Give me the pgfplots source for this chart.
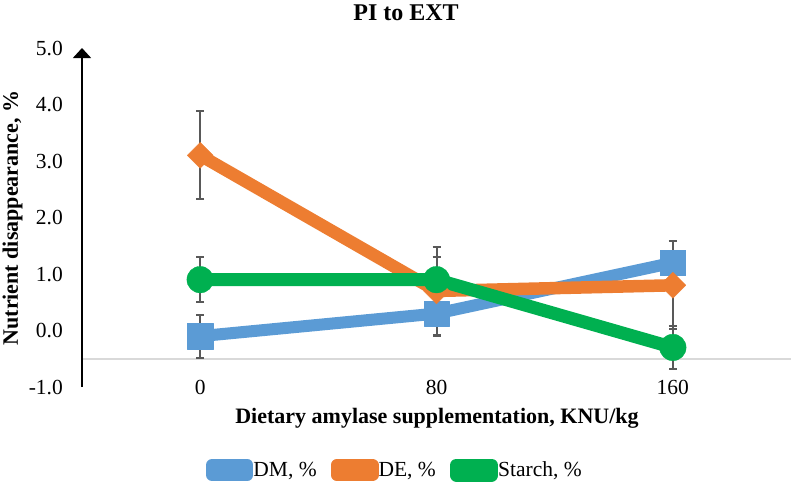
\documentclass[border=0pt]{standalone}
\usepackage{fontspec}
\setmainfont{Liberation Serif}
\usepackage{pgfplots}
\pgfplotsset{compat=1.18}
\usetikzlibrary{arrows.meta}
\definecolor{dmblue}{HTML}{5B9BD5}
\definecolor{deorange}{HTML}{ED7D31}
\definecolor{stgreen}{HTML}{00B050}
\definecolor{errgray}{HTML}{595959}
\definecolor{axgray}{HTML}{D9D9D9}
\pgfplotsset{
  errplot/.style={errgray, line width=2pt, only marks, mark=none, forget plot,
    error bars/.cd, y dir=both, y explicit, error mark=|,
    error bar style={draw=errgray, line width=2pt, solid},
    error mark options={draw=errgray, line width=2pt, mark size=4pt}},
}
\begin{document}
\begin{tikzpicture}[x=1pt,y=1pt]
\begin{axis}[
  at={(0pt,0pt)}, anchor=south west,
  scale only axis, width=709pt, height=339pt,
  xmin=-40, xmax=200, ymin=-1, ymax=5,
  clip=false,
  axis line style={draw=none},
  major tick length=0pt,
  xtick={0,80,160}, xticklabels={0,80,160},
  ytick={-1,0,1,2,3,4,5},
  yticklabels={-1.0,0.0,1.0,2.0,3.0,4.0,5.0},
  tick label style={font=\fontsize{21.5}{24}\selectfont, inner sep=0pt},
  xticklabel style={anchor=center},
  yticklabel style={anchor=east, xshift=-19pt},
  legend style={at={(axis description cs:0.44,-0.245)}, anchor=center,
    draw=none, fill=none, font=\fontsize{21.5}{24}\selectfont,
    legend columns=3,
    /tikz/every even column/.append style={column sep=14pt},
    nodes={inner xsep=0pt}},
  legend image code/.code={
    \path (0pt,-5pt) rectangle (35.3pt,5pt);
    \draw[#1, mark=none, line width=13pt, line cap=round] (5.5pt,0pt) -- (32.2pt,0pt);
  },
]
% horizontal axis line (crosses at -0.5)
\draw[axgray, line width=2pt] (axis cs:-40,-0.5) -- (axis cs:200,-0.5);
% vertical axis with arrow
\draw[black, line width=1.5pt, -{Triangle[width=18pt,length=10pt]}] (axis cs:-40,-1) -- (axis cs:-40,5);

% error bars (drawn beneath series)
\addplot[errplot] coordinates {(0,-0.1) +- (0,0.38) (80,0.3) +- (0,0.40) (160,1.2) +- (0,0.38)};
\addplot[errplot] coordinates {(0,3.1) +- (0,0.78) (80,0.7) +- (0,0.78) (160,0.8) +- (0,0.78)};
\addplot[errplot] coordinates {(0,0.9) +- (0,0.40) (80,0.9) +- (0,0.40) (160,-0.3) +- (0,0.38)};

% series
\addplot[dmblue, line width=12pt, line join=round, mark=square*, mark size=12.8pt,
  mark options={line width=0.3pt, fill=dmblue, draw=dmblue}]
  coordinates {(0,-0.1) (80,0.3) (160,1.2)};
\addlegendentry{DM, \%}
\addplot[deorange, line width=12.5pt, line join=round, mark=square*, mark size=9.2pt,
  mark options={rotate=45, line width=0.3pt, fill=deorange, draw=deorange}]
  coordinates {(0,3.1) (80,0.7) (160,0.8)};
\addlegendentry{DE, \%}
\addplot[stgreen, line width=13pt, line join=round, mark=*, mark size=13.3pt,
  mark options={line width=0.3pt, fill=stgreen, draw=stgreen}]
  coordinates {(0,0.9) (80,0.9) (160,-0.3)};
\addlegendentry{Starch, \%}
\end{axis}
\node[font=\fontsize{24}{28}\selectfont\bfseries] at (324pt,374.5pt) {PI to EXT};
\node[font=\fontsize{22}{26}\selectfont\bfseries, anchor=base] at (355pt,-36pt) {Dietary amylase supplementation, KNU/kg};
\node[font=\fontsize{22}{26}\selectfont\bfseries, rotate=90, anchor=base] at (-64pt,169pt) {Nutrient disappearance, \%};
\pgfresetboundingbox
\path (-82pt,-96pt) rectangle (709pt,387pt);
\end{tikzpicture}
\end{document}
